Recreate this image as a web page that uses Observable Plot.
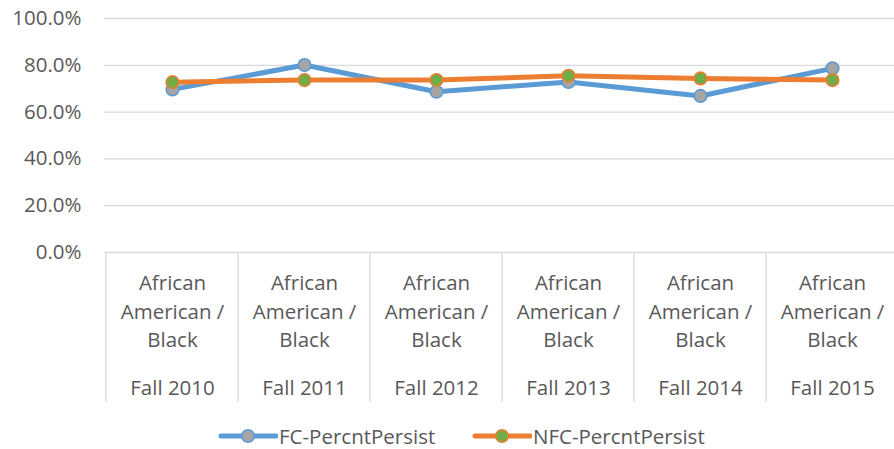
<!DOCTYPE html>
<html>
<head>
<meta charset="utf-8">
<script src="https://cdn.jsdelivr.net/npm/d3@7"></script>
<script src="https://cdn.jsdelivr.net/npm/@observablehq/plot@0.6"></script>
<style>
  html, body { margin: 0; padding: 0; background: #fff; }
  body { width: 894px; height: 449px; overflow: hidden; font-family: "Open Sans", sans-serif; }
  #legend { position: relative; height: 34px; font-size: 20.5px; color: #595959; }
  .item { position: absolute; top: 7px; display: flex; align-items: center; }
  .item svg { margin-right: 1px; }
</style>
</head>
<body>
<div id="chart"></div>
<div id="legend"></div>
<script>
const terms = ["Fall 2010", "Fall 2011", "Fall 2012", "Fall 2013", "Fall 2014", "Fall 2015"];
const groupLabel = "African American / Black";
const fcPersist = [69.7, 80.1, 68.7, 72.9, 66.9, 78.7];
const nfcPersist = [72.8, 73.7, 73.7, 75.5, 74.4, 73.7];
const yTicks = [0, 20, 40, 60, 80, 100];
const seriesNames = ["FC-PercntPersist", "NFC-PercntPersist"];
const lineColors = ["#5b9bd5", "#ed7d31"];
const markerColors = ["#a5a5a5", "#70ad47"];

const rows = [];
terms.forEach((t, i) => {
  rows.push({term: t, series: seriesNames[0], value: fcPersist[i]});
  rows.push({term: t, series: seriesNames[1], value: nfcPersist[i]});
});

const FONT = "'Open Sans', sans-serif";
const FS = 20.5;
const H = 415;
const plot = Plot.plot({
  width: 894,
  height: H,
  marginTop: 18,
  marginBottom: H - 252,
  marginLeft: 104,
  marginRight: -5,
  style: {fontFamily: FONT, fontSize: FS + "px", color: "#595959", background: "#fff"},
  x: {type: "band", domain: terms, padding: 0, label: null},
  y: {domain: [0, 100], label: null},
  marks: [
    Plot.ruleY(yTicks, {stroke: "#d9d9d9", strokeWidth: 1.3}),
    Plot.axisY({ticks: yTicks, tickSize: 0, tickPadding: 23, tickFormat: d => d.toFixed(1) + "%", fill: "#595959", fontSize: FS, label: null}),
    Plot.axisX({tickSize: 0, tickFormat: () => groupLabel.replace("African ", "African\n").replace(" Black", "\nBlack"), lineHeight: 1.4, dy: 8, fill: "#595959", fontSize: FS, label: null}),
    Plot.axisX({tickSize: 0, dy: 119, fill: "#595959", fontSize: FS, label: null}),
    Plot.line(rows, {x: "term", y: "value", z: "series", stroke: d => d.series, strokeWidth: 5, strokeLinejoin: "round", strokeLinecap: "round"}),
    Plot.dot(rows, {x: "term", y: "value", fill: d => markerColors[seriesNames.indexOf(d.series)], stroke: d => lineColors[seriesNames.indexOf(d.series)], strokeWidth: 1.6, r: 6.3})
  ],
  color: {domain: seriesNames, range: lineColors}
});
document.getElementById("chart").appendChild(plot);

// category separators using the plot's own x scale
const xs = plot.scale("x");
const bw = xs.bandwidth;
const svg = d3.select(plot);
const edges = terms.map(t => xs.apply(t)).concat([xs.apply(terms[terms.length - 1]) + bw]);
svg.append("g").selectAll("line").data(edges).join("line")
  .attr("x1", d => d).attr("x2", d => d)
  .attr("y1", 252).attr("y2", 402)
  .attr("stroke", "#d9d9d9").attr("stroke-width", 1.3);

// legend
const legend = d3.select("#legend");
const legendX = [218, 472];
seriesNames.forEach((name, i) => {
  const item = legend.append("div").attr("class", "item").style("left", legendX[i] + "px");
  const s = item.append("svg").attr("width", 60).attr("height", 16);
  s.append("line").attr("x1", 3).attr("x2", 58).attr("y1", 8).attr("y2", 8)
    .attr("stroke", lineColors[i]).attr("stroke-width", 5).attr("stroke-linecap", "round");
  s.append("circle").attr("cx", 30).attr("cy", 8).attr("r", 6.3)
    .attr("fill", markerColors[i]).attr("stroke", lineColors[i]).attr("stroke-width", 1.6);
  item.append("span").text(name);
});
</script>
</body>
</html>
